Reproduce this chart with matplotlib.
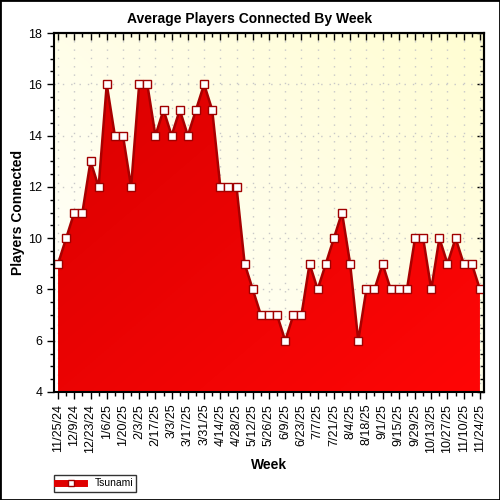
import numpy as np
import matplotlib
matplotlib.use("Agg")
import matplotlib.pyplot as plt
from matplotlib.colors import LinearSegmentedColormap
from matplotlib.lines import Line2D
from matplotlib.patches import Polygon, Rectangle
from matplotlib.ticker import MultipleLocator

plt.rcParams['font.family'] = ['Liberation Sans', 'DejaVu Sans']

# === Data: weekly average players (Tsunami) ===
weeks = [
    '11/25/24', '12/2/24', '12/9/24', '12/16/24', '12/23/24', '12/30/24',
    '1/6/25', '1/13/25', '1/20/25', '1/27/25', '2/3/25', '2/10/25',
    '2/17/25', '2/24/25', '3/3/25', '3/10/25', '3/17/25', '3/24/25',
    '3/31/25', '4/7/25', '4/14/25', '4/21/25', '4/28/25', '5/5/25',
    '5/12/25', '5/19/25', '5/26/25', '6/2/25', '6/9/25', '6/16/25',
    '6/23/25', '6/30/25', '7/7/25', '7/14/25', '7/21/25', '7/28/25',
    '8/4/25', '8/11/25', '8/18/25', '8/25/25', '9/1/25', '9/8/25',
    '9/15/25', '9/22/25', '9/29/25', '10/6/25', '10/13/25', '10/20/25',
    '10/27/25', '11/3/25', '11/10/25', '11/17/25', '11/24/25',
]
players = [
    9, 10, 11, 11, 13, 12,
    16, 14, 14, 12, 16, 16,
    14, 15, 14, 15, 14, 15,
    16, 15, 12, 12, 12, 9,
    8, 7, 7, 7, 6, 7,
    7, 9, 8, 9, 10, 11,
    9, 6, 8, 8, 9, 8,
    8, 8, 10, 10, 8, 10,
    9, 10, 9, 9, 8,
]
series_name = 'Tsunami'

x = np.arange(len(weeks))
y = np.array(players, dtype=float)
ymin, ymax = 4, 18

fig = plt.figure(figsize=(5, 5), dpi=100)
fig.patches.append(Rectangle((0, 0), 1, 1, transform=fig.transFigure,
                             fill=False, edgecolor='black', linewidth=2))
ax = fig.add_axes([0.108, 0.216, 0.860, 0.718])

# === Background gradient (white lower-left -> pale yellow upper-right) ===
gx, gy = np.meshgrid(np.linspace(0, 1, 200), np.linspace(0, 1, 200))
g = (gx + gy) / 2
bg_cmap = LinearSegmentedColormap.from_list('bg', ['#ffffff', '#fffdd2'])
ax.imshow(g, cmap=bg_cmap, origin='lower', extent=[0, 1, 0, 1],
          transform=ax.transAxes, aspect='auto', zorder=0)

# === Area with red gradient ===
red_cmap = LinearSegmentedColormap.from_list('red', ['#d80000', '#ff0606'])
rg = (gx + (1 - gy)) / 2
xlo, xhi = -0.5, len(weeks) - 0.5
im = ax.imshow(rg, cmap=red_cmap, origin='lower', extent=[x[0], x[-1], ymin, ymax],
               aspect='auto', zorder=2)
verts = np.vstack([[x[0], ymin], np.column_stack([x, y]), [x[-1], ymin]])
poly = Polygon(verts, closed=True, facecolor='none', edgecolor='none')
ax.add_patch(poly)
im.set_clip_path(poly)

ax.plot(x, y, color='#a80000', linewidth=1.8, zorder=3)
ax.plot(x, y, linestyle='none', marker='s', markersize=6,
        markerfacecolor='white', markeredgecolor='#a00000',
        markeredgewidth=1, zorder=4)

# === Axes, ticks, grid ===
ax.set_xlim(xlo, xhi)
ax.set_ylim(ymin, ymax)
ax.set_xticks(x[::2])
ax.set_xticklabels(weeks[::2], rotation=90, fontsize=9)
ax.xaxis.set_minor_locator(MultipleLocator(1))
ax.yaxis.set_major_locator(MultipleLocator(2))
ax.yaxis.set_minor_locator(MultipleLocator(0.5))
ax.tick_params(axis='y', labelsize=9)
ax.tick_params(which='major', length=5, width=1, direction='out')
ax.tick_params(which='minor', length=3, width=1, direction='out')
ax.grid(True, which='major', color='#c8c8c8', linestyle=(0, (1, 5)), linewidth=1)
ax.set_axisbelow(True)
for sp in ax.spines.values():
    sp.set_linewidth(1.5)
    sp.set_zorder(5)

# inward ticks on top and right
top = ax.secondary_xaxis('top')
top.set_xticks(x[::2])
top.xaxis.set_minor_locator(MultipleLocator(1))
top.tick_params(which='major', direction='in', length=5, width=1, labeltop=False)
top.tick_params(which='minor', direction='in', length=3, width=1)
top.spines['top'].set_linewidth(1.5)
right = ax.secondary_yaxis('right')
right.yaxis.set_major_locator(MultipleLocator(2))
right.yaxis.set_minor_locator(MultipleLocator(0.5))
right.tick_params(which='major', direction='in', length=5, width=1, labelright=False)
right.tick_params(which='minor', direction='in', length=3, width=1)
right.spines['right'].set_linewidth(1.5)

fig.suptitle('Average Players Connected By Week', x=0.5, y=0.962, va='center',
             fontsize=10, fontweight='bold')
ax.set_xlabel('Week', fontsize=10, fontweight='bold', labelpad=4)
ax.set_ylabel('Players Connected', fontsize=10, fontweight='bold', labelpad=2)

# === Legend ===
handle = Line2D([], [], color='#e00000', linewidth=5, marker='s', markersize=5,
                markerfacecolor='white', markeredgecolor='#a00000')
leg = fig.legend([handle], [series_name], loc='lower left',
                 bbox_to_anchor=(0.108, 0.017), fontsize=7.5, frameon=True,
                 fancybox=False, edgecolor='black', handlelength=2.6,
                 borderpad=0.3, handletextpad=1.0, borderaxespad=0)
leg.get_frame().set_linewidth(1)

fig.savefig('out.png', dpi=100)
